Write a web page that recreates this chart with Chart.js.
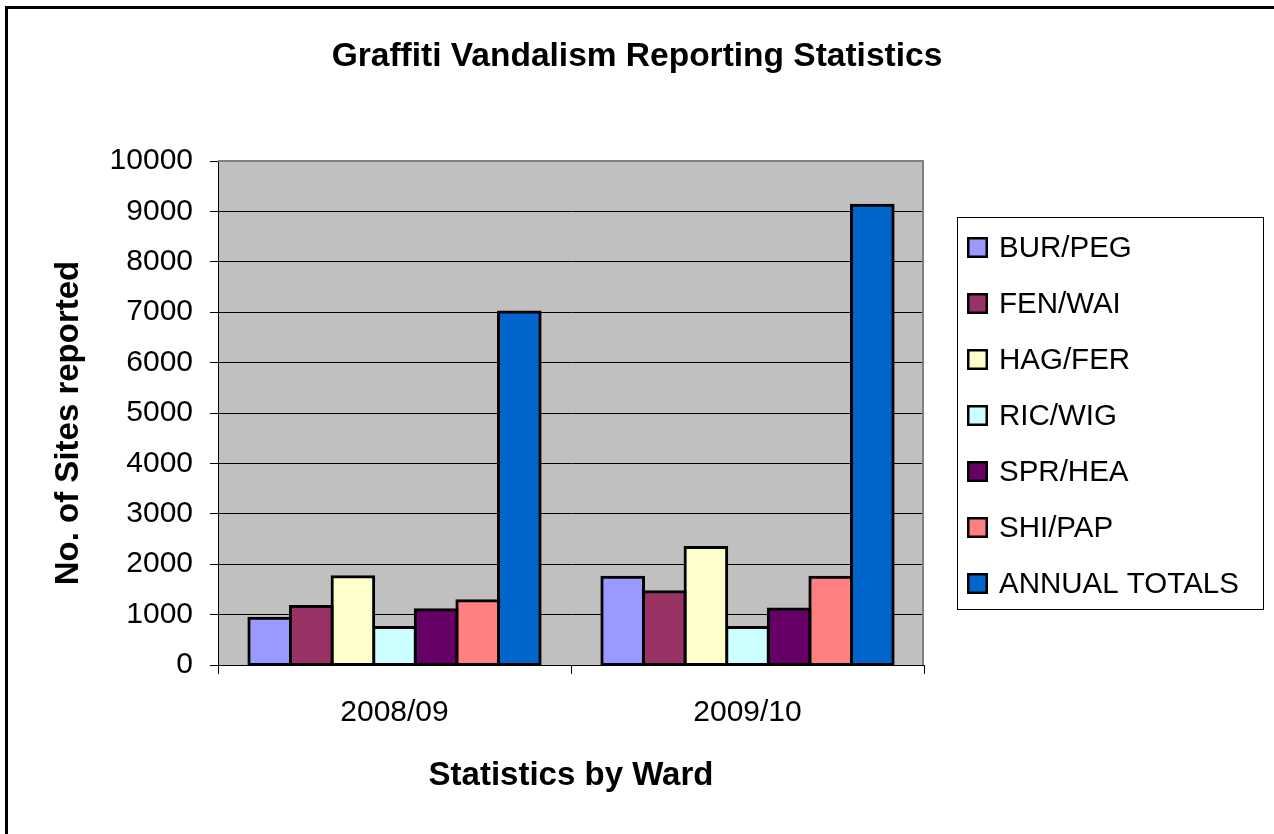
<!DOCTYPE html>
<html>
<head>
<meta charset="utf-8">
<title>Graffiti Vandalism Reporting Statistics</title>
<script src="https://cdn.jsdelivr.net/npm/chart.js@4/dist/chart.umd.min.js"></script>
<style>
  html, body { margin: 0; padding: 0; background: #ffffff; }
  canvas { display: block; }
</style>
</head>
<body>
<canvas id="chart" width="1274" height="834"></canvas>
<script>
// Reporting years (x categories)
const years = ['2008/09', '2009/10'];

// Sites reported per ward, one array per ward
const burPeg = [930, 1740];
const fenWai = [1160, 1455];
const hagFer = [1750, 2330];
const ricWig = [745, 745];
const sprHea = [1095, 1110];
const shiPap = [1275, 1740];
const annualTotals = [7005, 9120];

// Series names and fills
const seriesNames = ['BUR/PEG', 'FEN/WAI', 'HAG/FER', 'RIC/WIG', 'SPR/HEA', 'SHI/PAP', 'ANNUAL TOTALS'];
const seriesValues = [burPeg, fenWai, hagFer, ricWig, sprHea, shiPap, annualTotals];
const seriesColors = ['#9999FF', '#993366', '#FFFFCC', '#CCFFFF', '#660066', '#FF8080', '#0066CC'];

// Value axis
const yMin = 0;
const yMax = 10000;
const yStep = 1000;

const FONT = "'Liberation Sans', Arial, Helvetica, sans-serif";
Chart.defaults.font.family = FONT;
Chart.defaults.color = '#000000';

const datasets = seriesNames.map((name, i) => ({
  label: name,
  data: seriesValues[i],
  backgroundColor: seriesColors[i],
  borderColor: '#000000',
  borderWidth: 3,
  inflateAmount: 1.5,
  borderSkipped: false,
  categoryPercentage: 0.825,
  barPercentage: 1.0
}));

// Page background, grey plot area and outer frame
const framePlugin = {
  id: 'frame',
  beforeDraw(chart) {
    const { ctx, chartArea: a } = chart;
    ctx.save();
    ctx.fillStyle = '#ffffff';
    ctx.fillRect(0, 0, chart.width, chart.height);
    ctx.fillStyle = '#C0C0C0';
    ctx.fillRect(a.left, a.top, a.right - a.left, a.bottom - a.top);
    ctx.restore();
  },
  afterDraw(chart) {
    const { ctx, chartArea: a } = chart;
    ctx.save();
    // plot area edge (top and right)
    ctx.strokeStyle = '#808080';
    ctx.lineWidth = 2;
    ctx.beginPath();
    ctx.moveTo(a.left, a.top);
    ctx.lineTo(a.right - 1, a.top);
    ctx.lineTo(a.right - 1, a.bottom);
    ctx.stroke();
    // outer chart border (top and left)
    ctx.fillStyle = '#000000';
    ctx.fillRect(5, 6, chart.width - 5, 3);
    ctx.fillRect(5, 6, 3, chart.height - 6);
    ctx.restore();
  }
};

// Rotated value-axis title
const yTitlePlugin = {
  id: 'yTitle',
  afterDraw(chart) {
    const { ctx } = chart;
    ctx.save();
    ctx.translate(69, 423);
    ctx.rotate(-Math.PI / 2);
    ctx.font = "bold 33px " + FONT;
    ctx.fillStyle = '#000000';
    ctx.textAlign = 'center';
    ctx.textBaseline = 'middle';
    ctx.fillText('No. of Sites reported', 0, 0);
    ctx.restore();
  }
};

// Boxed legend in the right-hand margin
const boxLegendPlugin = {
  id: 'boxLegend',
  afterDraw(chart) {
    const { ctx } = chart;
    const box = { x: 957.5, y: 217.5, w: 306, h: 392 };
    ctx.save();
    ctx.fillStyle = '#ffffff';
    ctx.fillRect(box.x, box.y, box.w, box.h);
    ctx.strokeStyle = '#000000';
    ctx.lineWidth = 1;
    ctx.strokeRect(box.x, box.y, box.w, box.h);
    ctx.font = "29.5px " + FONT;
    ctx.textAlign = 'left';
    ctx.textBaseline = 'middle';
    chart.data.datasets.forEach((ds, i) => {
      const cy = 247.5 + i * 56;
      ctx.fillStyle = '#000000';
      ctx.fillRect(967, cy - 10.5, 21, 21);
      ctx.fillStyle = ds.backgroundColor;
      ctx.fillRect(969.5, cy - 8, 16, 16);
      ctx.fillStyle = '#000000';
      ctx.fillText(ds.label, 999, cy + 1);
    });
    ctx.restore();
  }
};

new Chart(document.getElementById('chart'), {
  type: 'bar',
  data: { labels: years, datasets },
  plugins: [framePlugin, yTitlePlugin, boxLegendPlugin],
  options: {
    responsive: false,
    animation: false,
    layout: { padding: 0 },
    plugins: {
      legend: { display: false },
      tooltip: { enabled: false },
      title: {
        display: true,
        text: 'Graffiti Vandalism Reporting Statistics',
        color: '#000000',
        font: { size: 33.5, weight: 'bold', family: FONT, lineHeight: 1.2 },
        padding: { top: 37, bottom: 83.8 }
      }
    },
    scales: {
      x: {
        type: 'category',
        offset: true,
        grid: {
          display: true,
          offset: true,
          drawOnChartArea: false,
          drawTicks: true,
          tickLength: 9,
          color: '#000000',
          tickColor: '#000000',
          lineWidth: 1
        },
        border: { display: true, color: '#000000', width: 1 },
        ticks: { font: { size: 30, family: FONT }, color: '#000000', padding: 21 },
        title: {
          display: true,
          text: 'Statistics by Ward',
          color: '#000000',
          font: { size: 33, weight: 'bold', family: FONT, lineHeight: 1.2 },
          padding: { top: 0, bottom: 38.5 }
        },
        afterFit(scale) { scale.height = 169; }
      },
      y: {
        type: 'linear',
        position: 'left',
        min: yMin,
        max: yMax,
        grid: {
          color: '#000000',
          tickColor: '#000000',
          lineWidth: 1,
          drawTicks: true,
          tickLength: 8
        },
        border: { display: true, color: '#000000', width: 1 },
        ticks: {
          stepSize: yStep,
          font: { size: 30, family: FONT },
          color: '#000000',
          padding: 17,
          callback: (value) => String(value)
        },
        afterFit(scale) { scale.width = 218; }
      },
      legendSpace: {
        type: 'linear',
        position: 'right',
        display: true,
        grid: { display: false, drawTicks: false },
        border: { display: false },
        ticks: { display: false },
        afterFit(scale) { scale.width = 350; }
      }
    }
  }
});
</script>
</body>
</html>
